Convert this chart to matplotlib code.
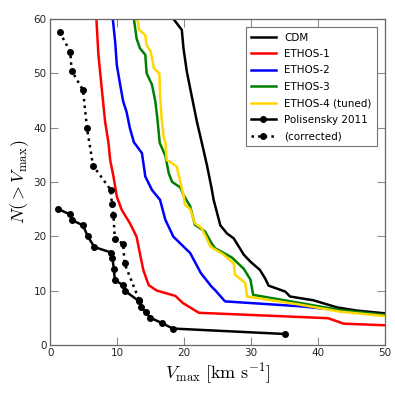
import numpy as np
import matplotlib
matplotlib.use('Agg')
import matplotlib.pyplot as plt

################### DATA ##################
# CDM
cdm_v = [18.4, 19.65, 19.9, 20.4, 21.1, 21.9, 22.6, 23.4, 24.1, 24.4, 25.4, 26.4, 27.4,
         28.9, 29.9, 31.3, 32.1, 32.6, 35.1, 35.8, 39.3, 42.8, 45.8, 50.0]
cdm_n = [60, 58, 54.6, 50.3, 46, 41.1, 37.4, 33.1, 28.8, 26.7, 22, 20.5, 19.6,
         16.6, 15.3, 13.8, 12.2, 10.9, 9.8, 8.9, 8.2, 6.9, 6.3, 5.8]

# ETHOS-1
e1_v = [6.9, 7.2, 7.7, 8.2, 8.7, 8.96, 9.45, 9.95, 10.7, 11.9, 12.9, 13.4, 13.9, 14.7,
        15.9, 18.7, 19.8, 22.2, 35.8, 41.5, 43.8, 50.0]
e1_n = [60, 53.4, 47.2, 41.1, 37.2, 34, 31, 27.3, 24.8, 22.4, 19.9, 16.8, 13.8, 11,
        10, 9, 7.7, 5.9, 5.2, 4.9, 3.9, 3.6]

# ETHOS-2
e2_v = [9.35, 9.7, 9.95, 10.45, 10.9, 11.4, 11.9, 12.5, 13.7, 14.2, 15.2, 16.4, 17.2,
        18.4, 20.4, 20.9, 22.5, 24.1, 24.6, 26.1, 37.3, 50.0]
e2_n = [60, 55.8, 51.5, 47.9, 44.8, 42.9, 39.9, 37.3, 35.3, 31, 28.5, 26.7, 23,
        19.9, 17.5, 16.9, 13.2, 10.7, 10.1, 8, 7.1, 5.5]

# ETHOS-3
e3_v = [12.5, 12.9, 13.4, 14.2, 14.4, 15.2, 15.7, 16.0, 16.35, 17.2, 17.7, 18.2, 19.4,
        19.9, 20.9, 21.6, 23.1, 23.6, 24.1, 24.6, 27.1, 28.9, 29.6, 29.9, 30.3, 37.3,
        43.3, 50.0]
e3_n = [60, 56.4, 54.6, 53.4, 50, 47.9, 44.8, 41.7, 37.2, 34.8, 31.6, 30, 29,
        27.6, 25.5, 22.1, 20.9, 19.8, 18.7, 17.8, 16.1, 14, 12.6, 12, 9.2, 7.7,
        6.4, 5.5]

# ETHOS-4 (tuned)
e4_v = [13.0, 13.3, 14.2, 14.4, 15.0, 15.5, 16.3, 16.4, 16.6, 16.9, 17.2, 17.4, 17.9,
        18.9, 19.7, 19.9, 20.1, 20.9, 21.6, 22.6, 23.4, 23.9, 25.9, 27.4, 27.6, 29.1,
        29.4, 37.3, 43.3, 50.0]
e4_n = [60, 58, 57, 55.2, 54, 50.9, 50, 46, 42.3, 38.5, 37.2, 34, 33.7,
        32.8, 28.5, 27.6, 25.8, 25, 22.4, 21.5, 19.5, 18.1, 16.6, 15, 12.9, 11.4,
        8.9, 7.4, 6.1, 5.3]

# Polisensky 2011
pol_v = [1.2, 3.0, 3.2, 4.9, 5.6, 6.6, 9.1, 9.3, 9.5, 9.65, 10.8, 11.1, 13.3, 13.5,
         14.3, 14.9, 16.7, 18.3, 35.0]
pol_n = [25, 24, 23, 22, 20, 18, 17, 16, 14, 12, 11, 10, 8, 7, 6, 5, 4, 3, 2]

# (corrected)
cor_v = [1.4, 3.0, 3.2, 4.9, 5.5, 6.4, 9.05, 9.2, 9.45, 9.65, 10.9, 11.1, 13.3]
cor_n = [57.6, 54, 50.5, 46.9, 39.9, 33, 28.5, 26, 23.9, 19.5, 18.6, 15, 8.2]


################### PLOT ##################
plt.rcParams['mathtext.fontset'] = 'cm'

fig = plt.figure(figsize=(3.95, 3.95), dpi=100)
ax = fig.add_axes([0.127, 0.127, 0.848, 0.825])

lw = 1.8
ax.plot(cdm_v, cdm_n, color='black', lw=lw, label='CDM')
ax.plot(e1_v, e1_n, color='red', lw=lw, label='ETHOS-1')
ax.plot(e2_v, e2_n, color='blue', lw=lw, label='ETHOS-2')
ax.plot(e3_v, e3_n, color='green', lw=lw, label='ETHOS-3')
ax.plot(e4_v, e4_n, color='gold', lw=lw, label='ETHOS-4 (tuned)')
ax.plot(pol_v, pol_n, color='black', lw=lw, marker='o', ms=4,
        label='Polisensky 2011')
ax.plot(cor_v, cor_n, color='black', lw=lw, ls=':', marker='o', ms=4,
        label='(corrected)')

ax.set_xlim(0, 50)
ax.set_ylim(0, 60)
ax.set_xticks([0, 10, 20, 30, 40, 50])
ax.set_yticks([0, 10, 20, 30, 40, 50, 60])
ax.tick_params(direction='in', top=True, right=True, length=6, width=0.8,
               color='0.55', labelsize=7.5, labelcolor='0.15', pad=2.5)
for s in ax.spines.values():
    s.set_color('0.4')
    s.set_linewidth(0.9)

ax.set_xlabel(r'$V_{\rm max}\ [{\rm km\ s^{-1}}]$', fontsize=13, labelpad=2)
ax.set_ylabel(r'$N(>V_{\rm max})$', fontsize=13, labelpad=2)

leg = ax.legend(loc='upper right', fontsize=7.5, fancybox=False, framealpha=1,
                handlelength=2.4, handletextpad=0.8, labelspacing=0.62,
                borderpad=0.5, borderaxespad=0.8)
leg.get_frame().set_edgecolor('0.45')
leg.get_frame().set_linewidth(0.8)

fig.savefig('out.png', dpi=100)
